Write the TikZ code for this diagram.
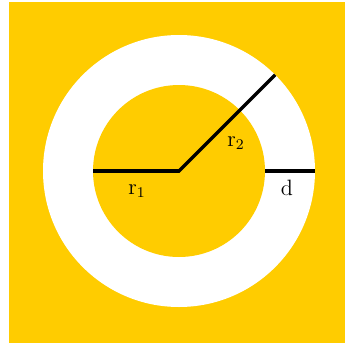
\documentclass[tikz,border=0pt]{standalone}
\usetikzlibrary{positioning,calc}
\definecolor{ringyellow}{RGB}{255,204,0}
\tikzset{
    radius line/.style={line width=1.9pt},
    dim label/.style={font=\large, inner sep=0pt}
}
\begin{document}
\begin{tikzpicture}[x=0.54pt,y=-0.54pt]
        \useasboundingbox (0,0) rectangle (345,347);
        \fill[ringyellow] (9,2) rectangle (345,343);
        \coordinate (O) at (179,171);
        \fill[white] (O) circle (136);
        \fill[ringyellow] (O) circle (86);
        % radii
        \coordinate (A) at (93,171);
        \coordinate (B) at ($(O)+(-45:136)$);
        \coordinate (C) at (265,171);
        \coordinate (D) at (315,171);
        \draw[radius line] (A) -- (O) -- (B);
        \draw[radius line] (C) -- (D);
        \node[dim label] (r1) at (137,191) {r$_1$};
        \node[dim label] (r2) at (236,143) {r$_2$};
        \node[dim label] (d) at (287,188) {d};
    \end{tikzpicture}
\end{document}
